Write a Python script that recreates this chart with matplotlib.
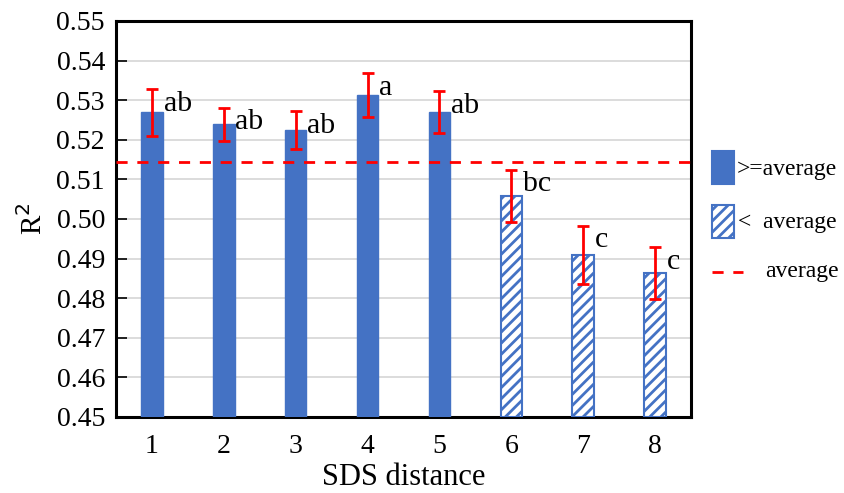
import matplotlib
matplotlib.use("Agg")
import matplotlib.pyplot as plt
from matplotlib.patches import Rectangle
from matplotlib.lines import Line2D

plt.rcParams['font.family'] = ['Liberation Serif', 'DejaVu Serif']
plt.rcParams['hatch.linewidth'] = 2.0
plt.rcParams['hatch.color'] = '#4472C4'

categories = ['1', '2', '3', '4', '5', '6', '7', '8']
r2_values = [0.5269, 0.5239, 0.5224, 0.5313, 0.5270, 0.5058, 0.4910, 0.4864]
r2_errors = [0.0059, 0.0042, 0.0048, 0.0055, 0.0053, 0.0066, 0.0073, 0.0065]
letters = ['ab', 'ab', 'ab', 'a', 'ab', 'bc', 'c', 'c']
average = 0.5143
yticks = [0.45, 0.46, 0.47, 0.48, 0.49, 0.50, 0.51, 0.52, 0.53, 0.54, 0.55]

blue = '#4472C4'
red = '#FF0000'

fig = plt.figure(figsize=(8.45, 4.93), dpi=100)
ax = fig.add_axes([116/845, 1-417/493, (691-116)/845, (417-21)/493])

x = list(range(1, len(categories) + 1))
for xi, v in zip(x, r2_values):
    if v >= average:
        ax.bar(xi, v - 0.45, bottom=0.45, width=0.3, color=blue, edgecolor=blue, linewidth=1, zorder=3)
    else:
        ax.bar(xi, v - 0.45, bottom=0.45, width=0.3, facecolor='white', edgecolor=blue,
               hatch='///', linewidth=1.5, zorder=3)

ax.errorbar(x, r2_values, yerr=r2_errors, fmt='none', ecolor=red, elinewidth=2,
            capsize=4.5, capthick=2, zorder=4)

for xi, v, e, t in zip(x, r2_values, r2_errors, letters):
    ax.annotate(t, xy=(xi, v + e), xytext=(8.4, -15.5), textcoords='offset points',
                ha='left', va='baseline', fontsize=21.5, zorder=5)

ax.axhline(average, color=red, linestyle=(0, (4, 3.5)), linewidth=2, zorder=5)

ax.set_xlim(0.5, 8.5)
ax.set_ylim(0.45, 0.55)
ax.set_xticks(x)
ax.set_xticklabels(categories)
ax.set_yticks(yticks)
ax.set_yticklabels([f'{t:.2f}' for t in yticks])
ax.tick_params(axis='y', direction='in', length=8, width=1.2, labelsize=20, pad=8)
ax.tick_params(axis='x', length=0, labelsize=20, pad=12)
ax.grid(axis='y', color='#D9D9D9', linewidth=1.3, zorder=0)
ax.set_axisbelow(True)
for s in ax.spines.values():
    s.set_linewidth(2.2)
    s.set_color('black')

ax.set_xlabel('SDS distance', fontsize=22, labelpad=3)
ax.set_ylabel('R$^2$', fontsize=21, labelpad=6)

# Legend (manual, outside right)
W, H = 845, 493
fig.patches.append(Rectangle((712/W, 1-184/H), 22/W, 33/H, transform=fig.transFigure,
                             facecolor=blue, edgecolor=blue, linewidth=1.5))
fig.patches.append(Rectangle((712/W, 1-238/H), 22/W, 33/H, transform=fig.transFigure,
                             facecolor='white', edgecolor=blue, hatch='///', linewidth=1.5))
fig.lines.append(Line2D([712/W, 743/W], [1-272/H, 1-272/H], transform=fig.transFigure,
                        color=red, linestyle=(0, (4, 3.5)), linewidth=2))
fig.text(737/W, 1-170/H, '>=average', fontsize=17, va='center', ha='left')
fig.text(738/W, 1-222/H, '<  average', fontsize=17, va='center', ha='left')
fig.text(765/W, 1-272/H, 'average', fontsize=17, va='center', ha='left')

fig.savefig('out.png', dpi=100)
